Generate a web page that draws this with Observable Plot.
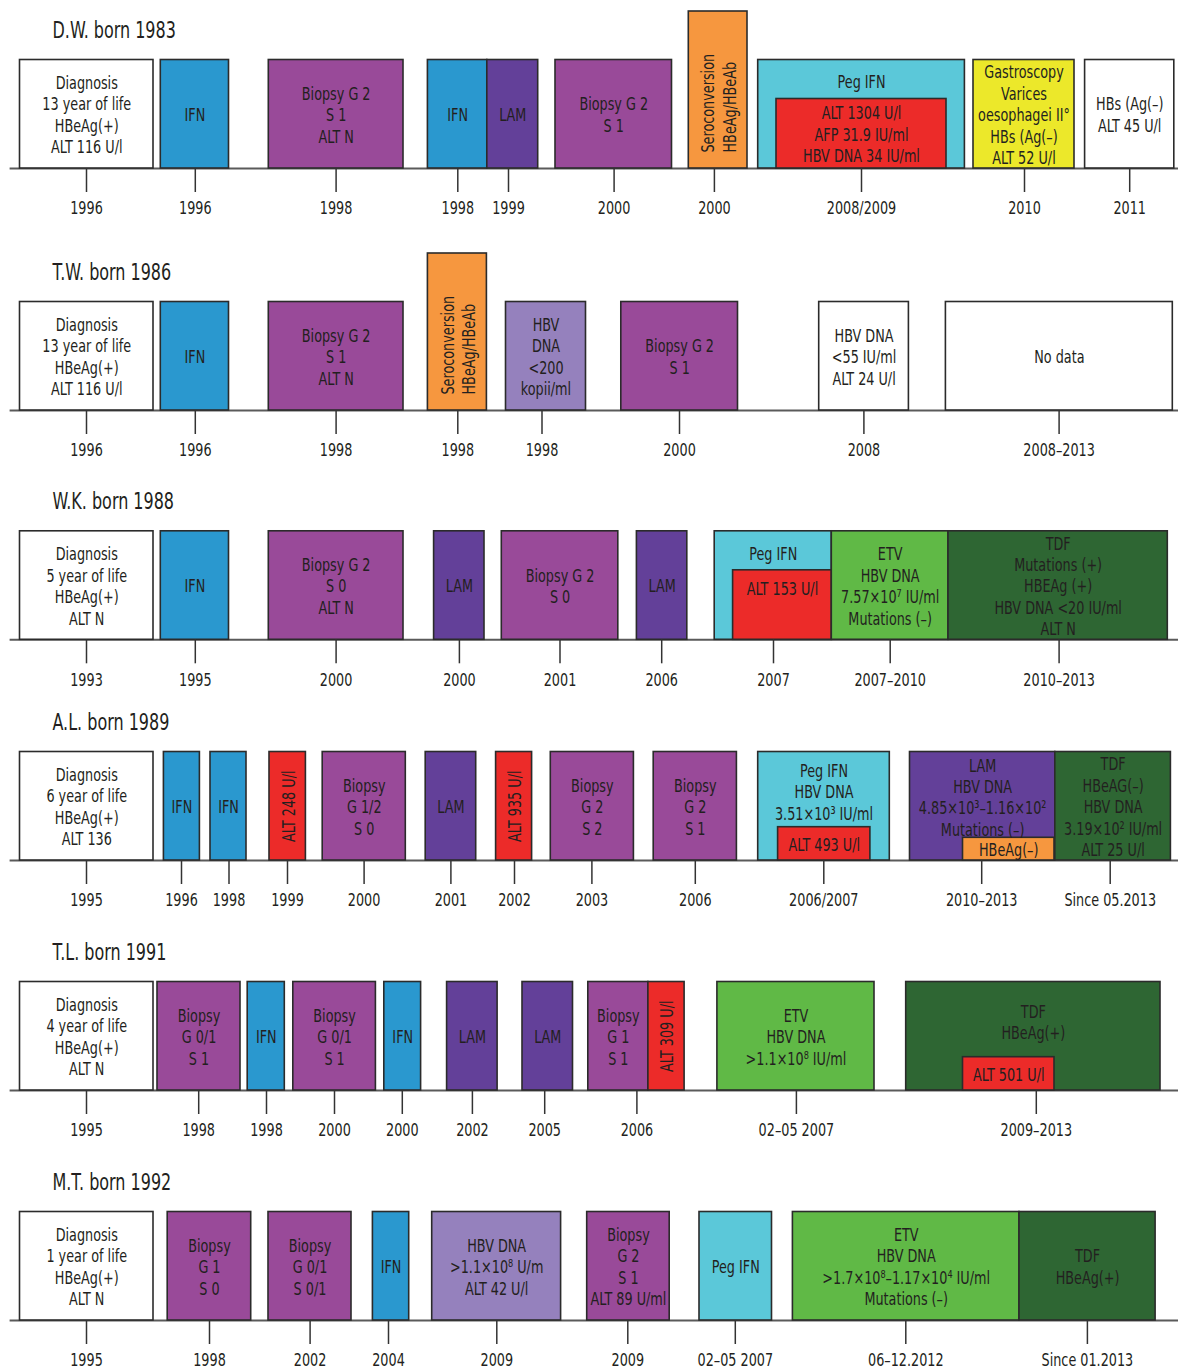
<!DOCTYPE html>
<html>
<head>
<meta charset="utf-8">
<script src="https://cdn.jsdelivr.net/npm/d3@7"></script>
<script src="https://cdn.jsdelivr.net/npm/@observablehq/plot@0.6"></script>
<style>
  body { margin: 0; background: #fff; }
  #chart svg { display: block; }
</style>
</head>
<body>
<div id="chart"></div>
<script>
// ---------------- DATA ----------------
const rowTitles = ["D.W. born 1983", "T.W. born 1986", "W.K. born 1988", "A.L. born 1989", "T.L. born 1991", "M.T. born 1992"];

// categories of events
const kinds = ["none", "IFN", "biopsy", "LAM", "seroconversion", "pegIFN", "ALT", "gastro", "hbvdna", "ETV", "TDF"];

// events: position along each patient's timeline (from, to), kind, level, label
const dwEvents = [
  {from: 19.5, to: 153, kind: "none", level: "full", label: "Diagnosis\n13 year of life\nHBeAg(+)\nALT 116 U/l"},
  {from: 160.3, to: 228.5, kind: "IFN", level: "full", label: "IFN"},
  {from: 268.3, to: 403, kind: "biopsy", level: "full", label: "Biopsy G 2\nS 1\nALT N"},
  {from: 427.4, to: 486.8, kind: "IFN", level: "full", label: "IFN"},
  {from: 486.8, to: 537.7, kind: "LAM", level: "full", label: "LAM"},
  {from: 555, to: 671.5, kind: "biopsy", level: "full", label: "Biopsy G 2\nS 1"},
  {from: 688.3, to: 747, kind: "seroconversion", level: "tall", label: "Seroconversion\nHBeAg/HBeAb", rotate: true, align: "bottom"},
  {from: 757.7, to: 964.4, kind: "pegIFN", level: "full", label: "Peg IFN"},
  {from: 776, to: 946, kind: "ALT", level: "half", label: "ALT 1304 U/l\nAFP 31.9 IU/ml\nHBV DNA 34 IU/ml", inner: true},
  {from: 973, to: 1074, kind: "gastro", level: "full", label: "Gastroscopy\nVarices\noesophagei II°\nHBs (Ag(–)\nALT 52 U/l"},
  {from: 1084.6, to: 1173.8, kind: "none", level: "full", label: "HBs (Ag(–)\nALT 45 U/l"}
];
const dwTicks = [[86, "1996"], [194.8, "1996"], [335.6, "1998"], [457.3, "1998"], [508, "1999"], [613.6, "2000"], [713.9, "2000"], [861, "2008/2009"], [1024, "2010"], [1129.2, "2011"]];

const twEvents = [
  {from: 19.5, to: 153, kind: "none", level: "full", label: "Diagnosis\n13 year of life\nHBeAg(+)\nALT 116 U/l"},
  {from: 160.3, to: 228.5, kind: "IFN", level: "full", label: "IFN"},
  {from: 268.3, to: 403, kind: "biopsy", level: "full", label: "Biopsy G 2\nS 1\nALT N"},
  {from: 427.4, to: 486.4, kind: "seroconversion", level: "tall", label: "Seroconversion\nHBeAg/HBeAb", rotate: true, align: "bottom"},
  {from: 505.5, to: 585.5, kind: "hbvdna", level: "full", label: "HBV\nDNA\n<200\nkopii/ml"},
  {from: 620.8, to: 737.5, kind: "biopsy", level: "full", label: "Biopsy G 2\nS 1"},
  {from: 818.7, to: 908.4, kind: "none", level: "full", label: "HBV DNA\n<55 IU/ml\nALT 24 U/l"},
  {from: 945.4, to: 1172.3, kind: "none", level: "full", label: "No data"}
];
const twTicks = [[86, "1996"], [194.8, "1996"], [335.6, "1998"], [457.3, "1998"], [541.5, "1998"], [679, "2000"], [863.4, "2008"], [1058.6, "2008–2013"]];

const wkEvents = [
  {from: 19.5, to: 153, kind: "none", level: "full", label: "Diagnosis\n5 year of life\nHBeAg(+)\nALT N"},
  {from: 160.3, to: 228.5, kind: "IFN", level: "full", label: "IFN"},
  {from: 268.3, to: 403, kind: "biopsy", level: "full", label: "Biopsy G 2\nS 0\nALT N"},
  {from: 433.6, to: 484, kind: "LAM", level: "full", label: "LAM"},
  {from: 501.3, to: 617.8, kind: "biopsy", level: "full", label: "Biopsy G 2\nS 0"},
  {from: 636.4, to: 686.8, kind: "LAM", level: "full", label: "LAM"},
  {from: 714.2, to: 831.3, kind: "pegIFN", level: "full", label: "Peg IFN"},
  {from: 732.6, to: 831.3, kind: "ALT", level: "half", label: "ALT 153 U/l", inner: true, align: "top"},
  {from: 831.3, to: 948, kind: "ETV", level: "full", label: "ETV\nHBV DNA\n7.57×10⁷ IU/ml\nMutations (–)"},
  {from: 948, to: 1167.3, kind: "TDF", level: "full", label: "TDF\nMutations (+)\nHBEAg (+)\nHBV DNA <20 IU/ml\nALT N"}
];
const wkTicks = [[86, "1993"], [194.8, "1995"], [335.6, "2000"], [458.9, "2000"], [559.5, "2001"], [661.2, "2006"], [773, "2007"], [889.7, "2007–2010"], [1058.6, "2010–2013"]];

const alEvents = [
  {from: 19.5, to: 153, kind: "none", level: "full", label: "Diagnosis\n6 year of life\nHBeAg(+)\nALT 136"},
  {from: 163.4, to: 199.4, kind: "IFN", level: "full", label: "IFN"},
  {from: 210, to: 246, kind: "IFN", level: "full", label: "IFN"},
  {from: 269, to: 305.4, kind: "ALT", level: "full", label: "ALT 248 U/l", rotate: true},
  {from: 322.2, to: 405.3, kind: "biopsy", level: "full", label: "Biopsy\nG 1/2\nS 0"},
  {from: 425.2, to: 475.7, kind: "LAM", level: "full", label: "LAM"},
  {from: 495.6, to: 531.6, kind: "ALT", level: "full", label: "ALT 935 U/l", rotate: true},
  {from: 550.3, to: 633.4, kind: "biopsy", level: "full", label: "Biopsy\nG 2\nS 2"},
  {from: 653.2, to: 736.4, kind: "biopsy", level: "full", label: "Biopsy\nG 2\nS 1"},
  {from: 757.7, to: 889.3, kind: "pegIFN", level: "full", label: "Peg IFN\nHBV DNA\n3.51×10³ IU/ml"},
  {from: 777.6, to: 869.9, kind: "ALT", level: "low", label: "ALT 493 U/l", inner: true},
  {from: 909.5, to: 1054.8, kind: "LAM", level: "full", label: "LAM\nHBV DNA\n4.85×10³–1.16×10²\nMutations (–)"},
  {from: 962.5, to: 1054, kind: "seroconversion", level: "strip", label: "HBeAg(–)", inner: true},
  {from: 1054.8, to: 1170.4, kind: "TDF", level: "full", label: "TDF\nHBeAG(–)\nHBV DNA\n3.19×10² IU/ml\nALT 25 U/l"}
];
const alTicks = [[86, "1995"], [181, "1996"], [228.5, "1998"], [287, "1999"], [363.6, "2000"], [450.4, "2001"], [514, "2002"], [591.4, "2003"], [694.8, "2006"], [823.3, "2006/2007"], [981.2, "2010–2013"], [1109.7, "Since 05.2013"]];

const tlEvents = [
  {from: 19.5, to: 153, kind: "none", level: "full", label: "Diagnosis\n4 year of life\nHBeAg(+)\nALT N"},
  {from: 157, to: 240, kind: "biopsy", level: "full", label: "Biopsy\nG 0/1\nS 1"},
  {from: 247.2, to: 284.3, kind: "IFN", level: "full", label: "IFN"},
  {from: 292.8, to: 375.4, kind: "biopsy", level: "full", label: "Biopsy\nG 0/1\nS 1"},
  {from: 383.8, to: 420.6, kind: "IFN", level: "full", label: "IFN"},
  {from: 446.6, to: 497.1, kind: "LAM", level: "full", label: "LAM"},
  {from: 522, to: 572.5, kind: "LAM", level: "full", label: "LAM"},
  {from: 587.8, to: 647.9, kind: "biopsy", level: "full", label: "Biopsy\nG 1\nS 1"},
  {from: 647.9, to: 684.1, kind: "ALT", level: "full", label: "ALT 309 U/l", rotate: true},
  {from: 716.9, to: 874, kind: "ETV", level: "full", label: "ETV\nHBV DNA\n>1.1×10⁸ IU/ml"},
  {from: 905.7, to: 1160, kind: "TDF", level: "full", label: "TDF\nHBeAg(+)"},
  {from: 962.5, to: 1054, kind: "ALT", level: "low", label: "ALT 501 U/l", inner: true}
];
const tlTicks = [[86, "1995"], [198.2, "1998"], [266, "1998"], [334, "2000"], [401.8, "2000"], [471.9, "2002"], [544.2, "2005"], [636.4, "2006"], [795.9, "02–05 2007"], [1035.8, "2009–2013"]];

const mtEvents = [
  {from: 19.5, to: 153, kind: "none", level: "full", label: "Diagnosis\n1 year of life\nHBeAg(+)\nALT N"},
  {from: 167.2, to: 250.7, kind: "biopsy", level: "full", label: "Biopsy\nG 1\nS 0"},
  {from: 268, to: 351, kind: "biopsy", level: "full", label: "Biopsy\nG 0/1\nS 0/1"},
  {from: 372.4, to: 408.7, kind: "IFN", level: "full", label: "IFN"},
  {from: 431.7, to: 560.6, kind: "hbvdna", level: "full", label: "HBV DNA\n>1.1×10⁸ U/m\nALT 42 U/l"},
  {from: 586.7, to: 669.2, kind: "biopsy", level: "full", label: "Biopsy\nG 2\nS 1\nALT 89 U/ml"},
  {from: 699, to: 771.5, kind: "pegIFN", level: "full", label: "Peg IFN"},
  {from: 792.4, to: 1019, kind: "ETV", level: "full", label: "ETV\nHBV DNA\n>1.7×10⁸–1.17×10⁴ IU/ml\nMutations (–)"},
  {from: 1019, to: 1155.1, kind: "TDF", level: "full", label: "TDF\nHBeAg(+)"}
];
const mtTicks = [[86, "1995"], [209, "1998"], [309.6, "2002"], [388, "2004"], [496.3, "2009"], [627.3, "2009"], [734.8, "02–05 2007"], [905.3, "06–12.2012"], [1086.9, "Since 01.2013"]];

// ---------------- LAYOUT / STYLE ----------------
const rowEvents = [dwEvents, twEvents, wkEvents, alEvents, tlEvents, mtEvents];
const rowTicks = [dwTicks, twTicks, wkTicks, alTicks, tlTicks, mtTicks];
const rowBase = [168, 410, 639.3, 860, 1090, 1320];
const levelHeight = {full: 108.5, tall: 157, half: 69.5, low: 33.3, strip: 22.7};
const kindColors = ["#ffffff", "#2a98cf", "#994a99", "#634099", "#f6973f", "#5bc8d9", "#ec2b29", "#ece82a", "#9581bd", "#60b946", "#2e6633"];
const FONT = '"Liberation Sans Narrow","Arial Narrow","DejaVu Sans Condensed","Roboto Condensed",sans-serif';
const FS = 18, LH = 1.19, SQUEEZE = 0.79;
const TEXT = "#231f20";

const boxes = rowEvents.flatMap((evs, r) => evs.map(e => ({...e, row: r, base: rowBase[r], top: rowBase[r] - levelHeight[e.level]})));
// text placement
boxes.forEach(b => {
  const n = b.label.split("\n").length;
  b.cx = (b.from + b.to) / 2;
  const child = !b.inner && boxes.find(c => c.inner && c.row === b.row && c.from >= b.from - 0.1 && c.to <= b.to + 0.1);
  if (child) b.cy = (b.top + child.top) / 2 + 2;
  else if (b.align === "top") b.cy = b.top + 18 + (n - 1) * FS * LH / 2;
  else b.cy = (b.top + b.base) / 2;
});
const ticks = rowTicks.flatMap((ts, r) => ts.map(([at, label]) => ({at, label, base: rowBase[r]})));
const titles = rowTitles.map((t, r) => ({t, base: rowBase[r]}));

const plot = Plot.plot({
  width: 1178,
  height: 1370,
  margin: 0,
  x: {domain: [0, 1178], range: [0, 1178], axis: null},
  y: {domain: [0, 1370], range: [0, 1370], axis: null},
  color: {type: "ordinal", domain: kinds, range: kindColors},
  style: {fontFamily: FONT, background: "#fff", color: TEXT},
  marks: [
    Plot.ruleY(rowBase, {y: d => d, x1: 9.6, x2: 1178, stroke: "#5a5a5a", strokeWidth: 2}),
    Plot.rect(boxes, {x1: "from", x2: "to", y1: "top", y2: "base", fill: "kind", stroke: "#2b2b2b", strokeWidth: 1.6}),
    Plot.text(boxes.filter(b => !b.rotate), {x: "cx", y: "cy", text: "label", fontSize: FS, lineHeight: LH, fill: TEXT, fontFamily: FONT}),
    Plot.text(boxes.filter(b => b.rotate && b.align !== "bottom"), {x: "cx", y: "cy", text: "label", rotate: -90, fontSize: FS, lineHeight: LH, fill: TEXT, fontFamily: FONT}),
    Plot.text(boxes.filter(b => b.rotate && b.align === "bottom"), {x: "cx", y: d => d.base - 16, text: "label", rotate: -90, textAnchor: "start", fontSize: FS, lineHeight: LH, fill: TEXT, fontFamily: FONT}),
    Plot.ruleX(ticks, {x: "at", y1: "base", y2: d => d.base + 24, stroke: "#333", strokeWidth: 1.5}),
    Plot.text(ticks, {x: "at", y: d => d.base + 40, text: "label", fontSize: FS, fill: TEXT, fontFamily: FONT}),
    Plot.text(titles, {x: 52, y: d => d.base - 138, text: "t", textAnchor: "start", fontSize: 22.5, fill: TEXT, fontFamily: FONT})
  ]
});
// condense the glyphs horizontally to imitate the narrow typeface of the original
plot.querySelectorAll("text").forEach(t => {
  const tr = t.getAttribute("transform");
  if (tr && tr.includes("translate")) t.setAttribute("transform", tr + ` scale(${SQUEEZE},1)`);
});
document.getElementById("chart").appendChild(plot);
</script>
</body>
</html>
